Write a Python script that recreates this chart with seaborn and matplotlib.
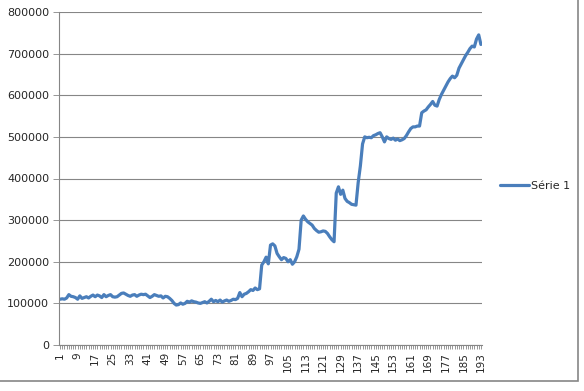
import numpy as np
import pandas as pd
import matplotlib
matplotlib.use("Agg")
import matplotlib.pyplot as plt
import seaborn as sns
from matplotlib.patches import Rectangle

series_name = "Série 1"
values = [
    110000, 111000, 110000, 113000, 121000, 117000, 116000, 114000,
    110000, 118000, 112000, 114000, 116000, 113000, 117000, 120000,
    116000, 120000, 118000, 114000, 121000, 116000, 119000, 121000,
    116000, 115000, 116000, 120000, 124000, 125000, 122000, 119000,
    117000, 120000, 121000, 117000, 120000, 122000, 121000, 122000,
    118000, 114000, 117000, 121000, 119000, 117000, 118000, 113000,
    117000, 116000, 112000, 107000, 100000, 96000, 97000, 101000,
    98000, 100000, 105000, 103000, 106000, 104000, 103000, 101000,
    100000, 102000, 104000, 101000, 105000, 110000, 104000, 107000,
    104000, 108000, 103000, 106000, 108000, 105000, 107000, 110000,
    109000, 112000, 126000, 116000, 122000, 124000, 128000, 133000,
    131000, 137000, 133000, 135000, 192000, 200000, 211000, 195000,
    240000, 243000, 238000, 220000, 212000, 205000, 210000, 208000,
    200000, 205000, 194000, 200000, 212000, 230000, 300000, 310000,
    302000, 296000, 292000, 288000, 280000, 275000, 271000, 272000,
    274000, 273000, 268000, 260000, 253000, 248000, 365000, 380000,
    362000, 372000, 352000, 345000, 342000, 338000, 337000, 336000,
    390000, 430000, 483000, 500000, 498000, 499000, 498000, 503000,
    505000, 508000, 510000, 500000, 488000, 500000, 496000, 494000,
    497000, 492000, 495000, 491000, 493000, 496000, 503000, 512000,
    520000, 524000, 524000, 526000, 526000, 558000, 562000, 565000,
    572000, 578000, 585000, 576000, 574000, 590000, 602000, 612000,
    622000, 632000, 640000, 646000, 642000, 648000, 665000, 675000,
    685000, 695000, 703000, 712000, 718000, 716000, 735000, 745000,
    722000,
]
categories = list(range(1, len(values) + 1))
y_ticks = [0, 100000, 200000, 300000, 400000, 500000, 600000, 700000, 800000]

df = pd.DataFrame({"cat": categories, "val": values})

sns.set_style("white")
plt.rcParams['font.family'] = ['DejaVu Sans']

fig = plt.figure(figsize=(5.84, 3.91), dpi=100)
ax = fig.add_axes([59/584, 1-345/391, (482-59)/584, (345-12)/391])

sns.lineplot(data=df, x="cat", y="val", ax=ax, color="#4A7EBB", linewidth=2.3,
             label=series_name, legend=False)

ax.set_xlim(0.5, len(values) + 0.5)
ax.set_ylim(0, 800000)
ax.set_yticks(y_ticks)
ax.set_yticklabels([str(v) for v in y_ticks], fontsize=8)
major = categories[::8]
ax.set_xticks(major)
ax.set_xticklabels([str(c) for c in major], rotation=90, fontsize=7.5)
ax.set_xticks(categories, minor=True)
ax.tick_params(axis="x", which="both", direction="out", length=3, width=0.6,
               color="#868686", bottom=True, pad=2)
ax.tick_params(axis="y", direction="out", length=4, width=0.6, color="#868686",
               left=True, pad=3)
ax.grid(axis="y", color="#868686", linewidth=0.8)
ax.set_axisbelow(True)
for s in ["top", "right"]:
    ax.spines[s].set_visible(False)
for s in ["left", "bottom"]:
    ax.spines[s].set_color("#868686")
    ax.spines[s].set_linewidth(0.8)
ax.set_xlabel("")
ax.set_ylabel("")

h, l = ax.get_legend_handles_labels()
fig.legend(h, l, loc="center left", bbox_to_anchor=(490/584, 1-186/391),
           frameon=False, fontsize=8, handlelength=2.6, handletextpad=0.2)

fig.add_artist(Rectangle((-0.01, 1-381/391), 578/584 + 0.01, 381/391 + 0.02,
                         transform=fig.transFigure, fill=False,
                         edgecolor="#868686", linewidth=1.2))

fig.savefig("out.png", dpi=100)
